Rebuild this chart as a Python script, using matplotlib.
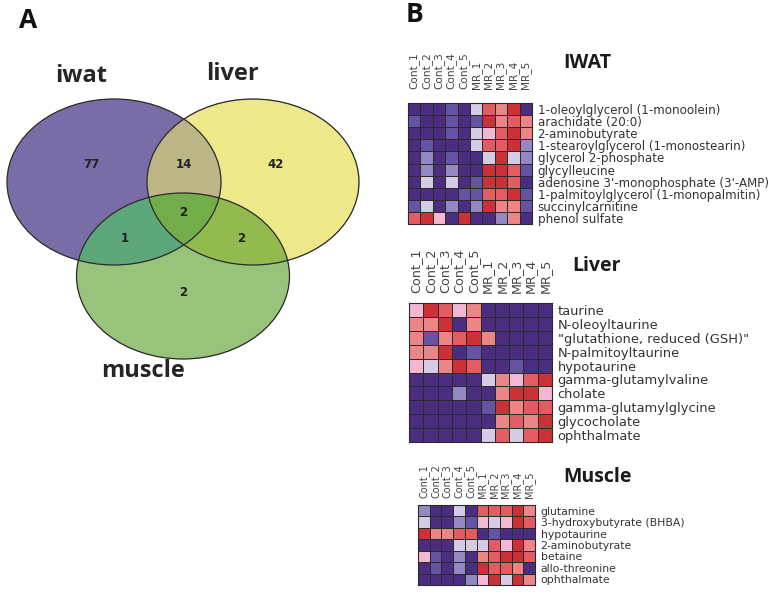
import matplotlib

matplotlib.use("Agg")
import matplotlib.pyplot as plt
import numpy as np
from matplotlib.colors import ListedColormap, to_rgba
from matplotlib.patches import Ellipse

# ---- Venn data -------------------------------------------------------------
venn_sets = ["iwat", "liver", "muscle"]
# region key: tuple of membership (iwat, liver, muscle)
venn_counts = {
    (1, 0, 0): 77,
    (0, 1, 0): 42,
    (0, 0, 1): 2,
    (1, 1, 0): 14,
    (1, 0, 1): 1,
    (0, 1, 1): 2,
    (1, 1, 1): 2,
}

# ---- heatmap data (levels 0 = low/purple ... 7 = high/red) ------------------
samples = ["Cont_1", "Cont_2", "Cont_3", "Cont_4", "Cont_5",
           "MR_1", "MR_2", "MR_3", "MR_4", "MR_5"]

iwat_rows = [
    "1-oleoylglycerol (1-monoolein)",
    "arachidate (20:0)",
    "2-aminobutyrate",
    "1-stearoylglycerol (1-monostearin)",
    "glycerol 2-phosphate",
    "glycylleucine",
    "adenosine 3'-monophosphate (3'-AMP)",
    "1-palmitoylglycerol (1-monopalmitin)",
    "succinylcarnitine",
    "phenol sulfate",
]
iwat_vals = [
    [0, 0, 0, 1, 0, 3, 6, 5, 7, 0],
    [1, 0, 0, 1, 0, 1, 7, 5, 6, 5],
    [0, 0, 0, 1, 0, 3, 4, 6, 7, 5],
    [0, 1, 0, 0, 0, 3, 6, 6, 7, 2],
    [0, 2, 0, 1, 0, 0, 3, 7, 3, 2],
    [0, 2, 0, 2, 0, 0, 7, 7, 6, 1],
    [0, 3, 0, 3, 0, 1, 7, 7, 6, 0],
    [0, 0, 0, 0, 1, 1, 6, 6, 7, 1],
    [1, 3, 0, 2, 0, 2, 7, 5, 5, 1],
    [6, 7, 4, 0, 7, 0, 0, 2, 5, 0],
]

liver_rows = [
    "taurine",
    "N-oleoyltaurine",
    "\"glutathione, reduced (GSH)\"",
    "N-palmitoyltaurine",
    "hypotaurine",
    "gamma-glutamylvaline",
    "cholate",
    "gamma-glutamylglycine",
    "glycocholate",
    "ophthalmate",
]
liver_vals = [
    [4, 7, 6, 4, 5, 0, 0, 0, 0, 0],
    [5, 5, 7, 0, 5, 0, 0, 0, 0, 0],
    [5, 1, 5, 6, 7, 5, 0, 0, 0, 0],
    [5, 5, 7, 0, 1, 0, 0, 0, 0, 0],
    [4, 3, 5, 7, 6, 0, 0, 1, 0, 0],
    [0, 0, 0, 0, 0, 3, 5, 4, 6, 7],
    [0, 0, 0, 2, 0, 0, 5, 7, 7, 4],
    [0, 0, 0, 0, 0, 1, 7, 5, 6, 6],
    [0, 0, 0, 0, 0, 0, 5, 6, 5, 7],
    [0, 0, 0, 0, 0, 3, 6, 3, 6, 7],
]

muscle_rows = [
    "glutamine",
    "3-hydroxybutyrate (BHBA)",
    "hypotaurine",
    "2-aminobutyrate",
    "betaine",
    "allo-threonine",
    "ophthalmate",
]
muscle_vals = [
    [2, 0, 0, 3, 0, 6, 6, 6, 7, 5],
    [3, 0, 0, 2, 1, 4, 3, 4, 7, 6],
    [7, 5, 5, 6, 6, 0, 1, 0, 0, 0],
    [0, 0, 0, 3, 3, 3, 6, 4, 7, 5],
    [4, 1, 0, 2, 0, 5, 6, 7, 7, 6],
    [0, 1, 0, 2, 0, 7, 6, 6, 5, 0],
    [0, 0, 0, 0, 2, 4, 7, 3, 7, 5],
]

W, H = 780, 594
fig = plt.figure(figsize=(W / 100, H / 100), dpi=100)
fig.patch.set_facecolor("white")

BOLD = ["Open Sans", "DejaVu Sans"]

# ---- panel A: Venn ---------------------------------------------------------
ax_v = fig.add_axes([0, 0, 1, 1])
ax_v.set_xlim(0, W)
ax_v.set_ylim(H, 0)
ax_v.axis("off")

# ellipse geometry in pixel units: (cx, cy, width, height)
ellipses = [(114, 182, 214, 166), (253, 182, 212, 166), (183, 276, 213, 166)]
region_colors = {
    (1, 0, 0): "#7a6ea8",
    (0, 1, 0): "#ede88a",
    (0, 0, 1): "#98c47a",
    (1, 1, 0): "#bcb688",
    (1, 0, 1): "#5ea87a",
    (0, 1, 1): "#93bb4e",
    (1, 1, 1): "#72ad4a",
}

xs = np.linspace(0, 400, 1600)
ys = np.linspace(80, 380, 1200)
gx, gy = np.meshgrid(xs, ys)
inside = [((gx - cx) / (w / 2)) ** 2 + ((gy - cy) / (h / 2)) ** 2 <= 1
          for cx, cy, w, h in ellipses]
img = np.zeros(gx.shape + (4,))
for key, col in region_colors.items():
    m = np.ones(gx.shape, bool)
    for k, ins in zip(key, inside):
        m &= ins if k else ~ins
    img[m] = to_rgba(col)
ax_v.imshow(img, extent=(0, 400, 380, 80), origin="upper",
            interpolation="antialiased", zorder=1)
for cx, cy, w, h in ellipses:
    ax_v.add_patch(Ellipse((cx, cy), w, h, fill=False, ec="#2a2a2a",
                           lw=0.9, zorder=2))

count_pos = {
    (1, 0, 0): (91, 164), (1, 1, 0): (184, 164), (0, 1, 0): (276, 164),
    (1, 1, 1): (183, 212), (1, 0, 1): (125, 238), (0, 1, 1): (241, 238),
    (0, 0, 1): (183, 293),
}
for key, n in venn_counts.items():
    x, y = count_pos[key]
    ax_v.text(x, y, str(n), ha="center", va="center", fontsize=8.5,
              fontweight="bold", color="#222222", zorder=3)

name_pos = [(81, 76), (233, 74), (143, 371)]
for name, (x, y) in zip(venn_sets, name_pos):
    ax_v.text(x, y, name, ha="center", va="center", fontsize=17,
              fontweight="bold", color="#262626", family=BOLD)

ax_v.text(19, 21, "A", ha="left", va="center", fontsize=19,
          fontweight="bold", color="#111111", family=BOLD)
ax_v.text(406, 15, "B", ha="left", va="center", fontsize=19,
          fontweight="bold", color="#111111", family=BOLD)

# ---- panel B: heatmaps -----------------------------------------------------
cmap = ListedColormap(["#4b2e80", "#6553a3", "#9388c4", "#d5cbe5",
                       "#f2b8d2", "#ec8686", "#e25c62", "#cb3136"])


def draw_heatmap(box, vals, rows, title, title_xy, col_fs, row_fs, col_pad):
    x0, y0, x1, y1 = box
    ax = fig.add_axes([x0 / W, 1 - y1 / H, (x1 - x0) / W, (y1 - y0) / H])
    data = np.array(vals)
    ax.pcolormesh(data, cmap=cmap, vmin=-0.5, vmax=7.5,
                  edgecolors="#2b2b2b", linewidth=0.6)
    ax.set_xlim(0, data.shape[1])
    ax.set_ylim(data.shape[0], 0)
    ax.xaxis.tick_top()
    ax.set_xticks(np.arange(data.shape[1]) + 0.5)
    ax.set_xticklabels(samples, rotation=90, fontsize=col_fs, color="#444444")
    ax.yaxis.tick_right()
    ax.set_yticks(np.arange(data.shape[0]) + 0.5)
    ax.set_yticklabels(rows, fontsize=row_fs, color="#333333")
    ax.tick_params(axis="x", length=0, pad=col_pad)
    ax.tick_params(axis="y", length=0, pad=4)
    for s in ax.spines.values():
        s.set_color("#2b2b2b")
        s.set_linewidth(0.8)
    fig.text(title_xy[0] / W, 1 - title_xy[1] / H, title, ha="left",
             va="center", fontsize=14, fontweight="bold", color="#1a1a1a",
             family=BOLD)
    return ax


draw_heatmap((408, 103, 532, 224), iwat_vals, iwat_rows, "IWAT", (563, 63),
             7.6, 8.6, 10)
draw_heatmap((409, 303, 552, 442), liver_vals, liver_rows, "Liver", (572, 266),
             9.2, 9.4, 7)
draw_heatmap((418, 505, 535, 585), muscle_vals, muscle_rows, "Muscle",
             (563, 477), 7.0, 7.8, 5)

fig.savefig("out.png", dpi=100, facecolor="white")
